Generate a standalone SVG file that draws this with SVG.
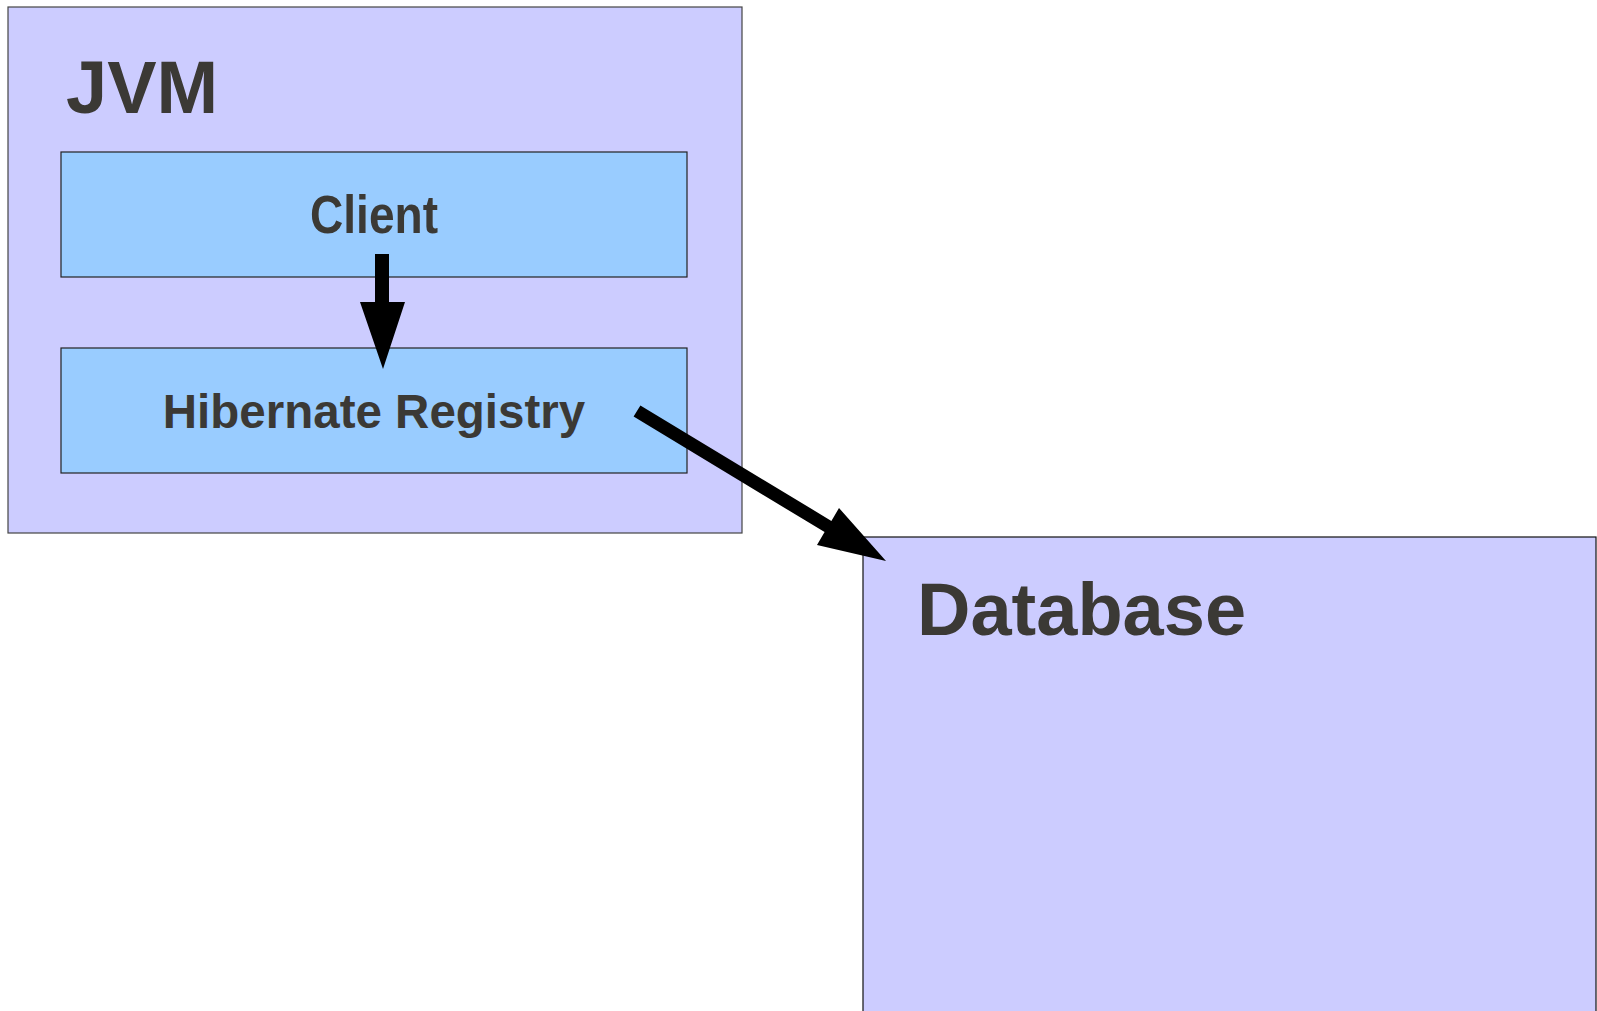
<svg xmlns="http://www.w3.org/2000/svg" width="1597" height="1011" viewBox="0 0 1597 1011">
<style>
.outer{fill:#ccccff;stroke:#444;stroke-width:1.2}
.inner{fill:#99ccff;stroke:#222;stroke-width:1.2}
.t{font-family:"Liberation Sans",Arial,sans-serif;font-weight:bold;fill:#3b3935}
.arrow{fill:#000;stroke:none}
</style>
<rect x="0" y="0" width="1597" height="1011" fill="#ffffff"/>
<g id="jvm">
<rect class="outer" x="8" y="7" width="734" height="526"/>
<text class="t" x="66" y="113" font-size="74">JVM</text>
</g>
<g id="client">
<rect class="inner" x="61" y="152" width="626" height="125"/>
<text class="t" x="374" y="233" font-size="53" text-anchor="middle" textLength="128" lengthAdjust="spacingAndGlyphs">Client</text>
</g>
<g id="hibernate-registry">
<rect class="inner" x="61" y="348" width="626" height="125"/>
<text class="t" x="374" y="428" font-size="47.5" text-anchor="middle">Hibernate Registry</text>
</g>
<g id="database">
<rect class="outer" x="863" y="537" width="733" height="490" style="stroke:#111"/>
<text class="t" x="917" y="635" font-size="74">Database</text>
</g>
<g id="connectors">
<polygon class="arrow" points="375,254 389,254 389,302 405,302 383,369 360,302 375,302"/>
<polygon class="arrow" points="640.4,405.4 831.4,520.9 839,508 886,561 817,545 824.6,532.1 633.6,416.6"/>
</g>
</svg>
